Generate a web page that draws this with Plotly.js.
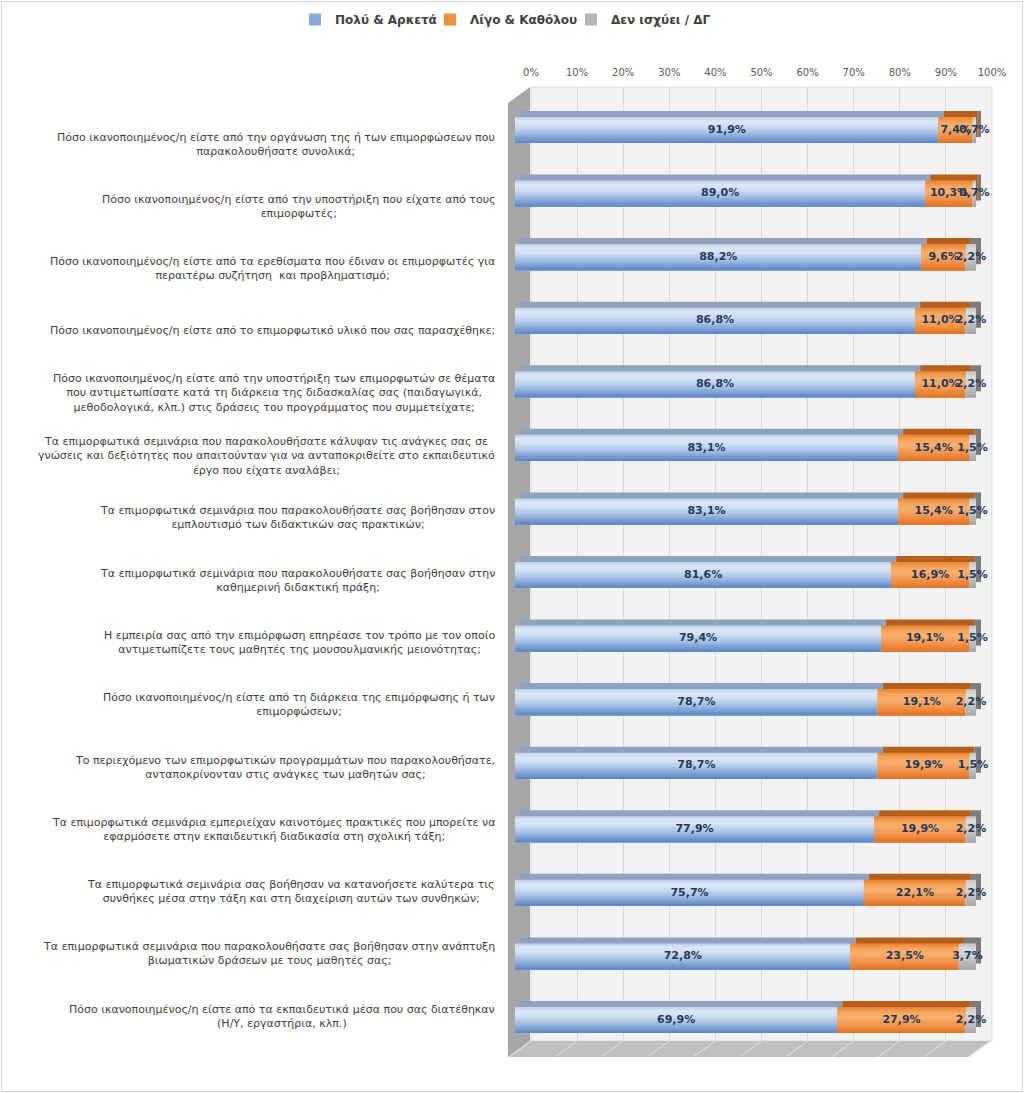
<!DOCTYPE html>
<html>
<head>
<meta charset="utf-8">
<script src="https://cdn.plot.ly/plotly-3.0.1.min.js"></script>
<style>
html,body{margin:0;padding:0;background:#fff;}
#wrap{width:1024px;height:1093px;position:relative;}
#frame{position:absolute;left:1px;top:1px;width:1020px;height:1089px;border:1px solid #d4d4d4;pointer-events:none;}
#chart{width:1024px;height:1093px;}
</style>
</head>
<body>
<div id="wrap"><div id="chart"></div><div id="frame"></div></div>
<script>
// ---------- DATA ----------
const categories = [
  "Πόσο ικανοποιημένος/η είστε από την οργάνωση της ή των επιμορφώσεων που<br>παρακολουθήσατε συνολικά;",
  "Πόσο ικανοποιημένος/η είστε από την υποστήριξη που είχατε από τους<br>επιμορφωτές;",
  "Πόσο ικανοποιημένος/η είστε από τα ερεθίσματα που έδιναν οι επιμορφωτές για<br>περαιτέρω συζήτηση  και προβληματισμό;",
  "Πόσο ικανοποιημένος/η είστε από το επιμορφωτικό υλικό που σας παρασχέθηκε;",
  "Πόσο ικανοποιημένος/η είστε από την υποστήριξη των επιμορφωτών σε θέματα<br>που αντιμετωπίσατε κατά τη διάρκεια της διδασκαλίας σας (παιδαγωγικά,<br>μεθοδολογικά, κλπ.) στις δράσεις του προγράμματος που συμμετείχατε;",
  "Τα επιμορφωτικά σεμινάρια που παρακολουθήσατε κάλυψαν τις ανάγκες σας σε<br>γνώσεις και δεξιότητες που απαιτούνταν για να ανταποκριθείτε στο εκπαιδευτικό<br>έργο που είχατε αναλάβει;",
  "Τα επιμορφωτικά σεμινάρια που παρακολουθήσατε σας βοήθησαν στον<br>εμπλουτισμό των διδακτικών σας πρακτικών;",
  "Τα επιμορφωτικά σεμινάρια που παρακολουθήσατε σας βοήθησαν στην<br>καθημερινή διδακτική πράξη;",
  "Η εμπειρία σας από την επιμόρφωση επηρέασε τον τρόπο με τον οποίο<br>αντιμετωπίζετε τους μαθητές της μουσουλμανικής μειονότητας;",
  "Πόσο ικανοποιημένος/η είστε από τη διάρκεια της επιμόρφωσης ή των<br>επιμορφώσεων;",
  "Το περιεχόμενο των επιμορφωτικών προγραμμάτων που παρακολουθήσατε,<br>ανταποκρίνονταν στις ανάγκες των μαθητών σας;",
  "Τα επιμορφωτικά σεμινάρια εμπεριείχαν καινοτόμες πρακτικές που μπορείτε να<br>εφαρμόσετε στην εκπαιδευτική διαδικασία στη σχολική τάξη;",
  "Τα επιμορφωτικά σεμινάρια σας βοήθησαν να κατανοήσετε καλύτερα τις<br>συνθήκες μέσα στην τάξη και στη διαχείριση αυτών των συνθηκών;",
  "Τα επιμορφωτικά σεμινάρια που παρακολουθήσατε σας βοήθησαν στην ανάπτυξη<br>βιωματικών δράσεων με τους μαθητές σας;",
  "Πόσο ικανοποιημένος/η είστε από τα εκπαιδευτικά μέσα που σας διατέθηκαν<br>(Η/Υ, εργαστήρια, κλπ.)"
];
const seriesNames = ["Πολύ & Αρκετά", "Λίγο & Καθόλου", "Δεν ισχύει / ΔΓ"];
const muchEnough = [91.9, 89.0, 88.2, 86.8, 86.8, 83.1, 83.1, 81.6, 79.4, 78.7, 78.7, 77.9, 75.7, 72.8, 69.9];
const littleNone = [7.4, 10.3, 9.6, 11.0, 11.0, 15.4, 15.4, 16.9, 19.1, 19.1, 19.9, 19.9, 22.1, 23.5, 27.9];
const notApplicable = [0.7, 0.7, 2.2, 2.2, 2.2, 1.5, 1.5, 1.5, 1.5, 2.2, 1.5, 2.2, 2.2, 3.7, 2.2];
const tickValues = [0, 10, 20, 30, 40, 50, 60, 70, 80, 90, 100];

// ---------- STYLE ----------
const W = 1024, H = 1093;
const M = {l: 515, r: 32, t: 87, b: 36};
const PW = W - M.l - M.r, PH = H - M.t - M.b;
const px2x = p => (p - M.l) / PW;
const px2y = p => (H - M.b - p) / PH;

// vertical gradient stops (top -> bottom of each bar's front face)
const gradStops = [
  [[0, "#b8cce9"], [0.15, "#dce7f5"], [0.35, "#cfdef2"], [0.6, "#a7c1e5"], [1, "#5784c4"]],
  [[0, "#e9822d"], [0.2, "#f6a45d"], [0.4, "#f9b070"], [0.7, "#f2934a"], [1, "#de7224"]],
  [[0, "#c2c2c2"], [0.2, "#dadada"], [0.5, "#cbcbcb"], [1, "#a5a5a5"]]
];
const topColors = ["#8fa1be", "#b65f1c", "#7c7c7c"];
const legendColors = ["#86a9d9", "#f0903e", "#b5b5b5"];
const labelColor = "#243a5a";

const hex2rgb = h => [1, 3, 5].map(i => parseInt(h.substr(i, 2), 16));
function gradColor(stops, t) {
  for (let i = 1; i < stops.length; i++) {
    if (t <= stops[i][0]) {
      const [t0, c0] = stops[i - 1], [t1, c1] = stops[i];
      const f = (t - t0) / (t1 - t0), a = hex2rgb(c0), b = hex2rgb(c1);
      return "rgb(" + a.map((v, j) => Math.round(v + (b[j] - v) * f)).join(",") + ")";
    }
  }
  return stops[stops.length - 1][1];
}

const series = [muchEnough, littleNone, notApplicable];
const bases = [
  muchEnough.map(() => 0),
  muchEnough.slice(),
  muchEnough.map((v, i) => v + littleNone[i])
];
const fmt = v => v.toFixed(1).replace(".", ",") + "%";

const FULLW = 0.41;
const NB = 16;
const BW = FULLW / NB;

const traces = [];
// back-wall subplot (gridlines + tick labels)
traces.push({type: "scatter", x: [0, 100], y: [0, 1], mode: "none", xaxis: "x", yaxis: "y", showlegend: false, hoverinfo: "skip"});
// top / side faces (depth) on shifted axes
series.forEach((vals, s) => {
  traces.push({
    type: "bar", orientation: "h", x: vals, base: bases[s], y: categories,
    xaxis: "x2", yaxis: "y2", width: FULLW,
    marker: {color: topColors[s], line: {width: 0}},
    showlegend: false, hoverinfo: "skip"
  });
});
// front faces: nested bands give a vertical gradient
series.forEach((vals, s) => {
  for (let k = 0; k < NB; k++) {
    traces.push({
      type: "bar", orientation: "h", x: vals, base: bases[s], y: categories,
      xaxis: "x3", yaxis: "y3", width: FULLW - k * BW, offset: -FULLW / 2 + k * BW,
      marker: {color: gradColor(gradStops[s], (k + 0.5) / NB), line: {width: 0}},
      showlegend: false, hoverinfo: "skip"
    });
  }
});
// value labels in the middle of each segment
series.forEach((vals, s) => {
  traces.push({
    type: "scatter", mode: "text",
    x: vals.map((v, i) => bases[s][i] + v / 2), y: categories,
    xaxis: "x3", yaxis: "y3",
    text: vals.map(fmt), textposition: "middle center", cliponaxis: false,
    textfont: {family: "DejaVu Sans", size: 11, color: labelColor, weight: "bold"},
    showlegend: false, hoverinfo: "skip"
  });
});
// invisible trace to register the category-label axis
traces.push({type: "scatter", mode: "none", x: categories.map(() => 0), y: categories,
  xaxis: "x3", yaxis: "y4", showlegend: false, hoverinfo: "skip"});
// legend entries
const legendIds = ["legend", "legend2", "legend3"];
series.forEach((vals, s) => {
  traces.push({
    type: "bar", orientation: "h", x: [null], y: [categories[0]],
    xaxis: "x3", yaxis: "y3", legend: legendIds[s],
    marker: {color: legendColors[s]}, name: seriesNames[s], showlegend: true, hoverinfo: "skip"
  });
});

const wallTop = 87, wallBottom = 1041, frontBottom = 1057;
const dx = 5, dy = 6;
const legendTextStarts = [335, 470, 611];
const labelTop = 144 - 62.3 / 2, labelBottom = 144 + 14.5 * 62.3;

const hiddenCat = {type: "category", categoryorder: "array", categoryarray: categories,
  range: [14.5, -0.5], visible: false, showgrid: false, zeroline: false, fixedrange: true};

const layout = {
  width: W, height: H,
  margin: M,
  paper_bgcolor: "#ffffff", plot_bgcolor: "rgba(0,0,0,0)",
  barmode: "overlay",
  font: {family: "DejaVu Sans", size: 11, color: "#404040"},
  showlegend: true,
  xaxis: {domain: [px2x(531), px2x(992)], range: [0, 100], side: "top", anchor: "y",
    tickvals: tickValues, ticktext: tickValues.map(v => v + "%"), ticks: "", ticklabelstandoff: 8,
    tickfont: {family: "DejaVu Sans", size: 10, color: "#595959"}, automargin: false,
    showgrid: true, gridcolor: "#d9d9d9", gridwidth: 1, zeroline: false, showline: false, fixedrange: true},
  yaxis: {domain: [px2y(wallBottom), px2y(wallTop)], range: [0, 1], anchor: "x",
    visible: false, showgrid: false, zeroline: false, fixedrange: true},
  xaxis2: {domain: [px2x(515 + dx), px2x(976 + dx)], range: [0, 100], anchor: "y2",
    visible: false, showgrid: false, zeroline: false, fixedrange: true},
  yaxis2: Object.assign({domain: [px2y(1051.8 - dy), px2y(98.2 - dy)], anchor: "x2"}, hiddenCat),
  xaxis3: {domain: [px2x(515), px2x(976)], range: [0, 100], anchor: "y3",
    visible: false, showgrid: false, zeroline: false, fixedrange: true},
  yaxis3: Object.assign({domain: [px2y(1051.8), px2y(98.2)], anchor: "x3"}, hiddenCat),
  yaxis4: Object.assign({domain: [px2y(labelBottom), px2y(labelTop)], anchor: "x3"}, hiddenCat),
  shapes: [],
  annotations: categories.map(c => ({
    xref: "paper", x: px2x(497), xanchor: "right",
    yref: "y4", y: c, yanchor: "middle",
    text: c, showarrow: false, align: "center",
    font: {family: "DejaVu Sans", size: 11, color: "#404040"}
  }))
};
legendIds.forEach((id, s) => {
  layout[id] = {orientation: "h", xref: "container", yref: "container",
    x: (legendTextStarts[s] - 40) / W, xanchor: "left", y: 1 - 5 / H, yanchor: "top",
    font: {family: "DejaVu Sans", size: 12, color: "#404040", weight: "bold"},
    itemclick: false, itemdoubleclick: false, bgcolor: "rgba(0,0,0,0)", itemwidth: 30};
});

// back wall
layout.shapes.push({type: "rect", xref: "x domain", yref: "y domain", x0: 0, x1: 1, y0: 0, y1: 1,
  layer: "below", fillcolor: "#f2f2f2", line: {color: "#d9d9d9", width: 1}});
// left side wall
const lw = [[508, 103], [530, wallTop], [530, wallBottom], [508, frontBottom]];
layout.shapes.push({type: "path", xref: "paper", yref: "paper", layer: "below",
  path: "M" + lw.map(p => px2x(p[0]) + "," + px2y(p[1])).join(" L") + " Z",
  fillcolor: "#a6a6a6", line: {width: 0}});
// floor
const fl = [[508, frontBottom], [530, wallBottom], [990, wallBottom], [968, frontBottom]];
layout.shapes.push({type: "path", xref: "paper", yref: "paper", layer: "below",
  path: "M" + fl.map(p => px2x(p[0]) + "," + px2y(p[1])).join(" L") + " Z",
  fillcolor: "#bfbfbf", line: {width: 0}});
tickValues.forEach(v => {
  const bx = 531 + v / 100 * 461;
  layout.shapes.push({type: "line", xref: "paper", yref: "paper", layer: "below",
    x0: px2x(bx), y0: px2y(wallBottom), x1: px2x(bx - 22), y1: px2y(frontBottom),
    line: {color: "#e6e6e6", width: 1}});
});

Plotly.newPlot("chart", traces, layout, {staticPlot: true, displayModeBar: false});
</script>
</body>
</html>
